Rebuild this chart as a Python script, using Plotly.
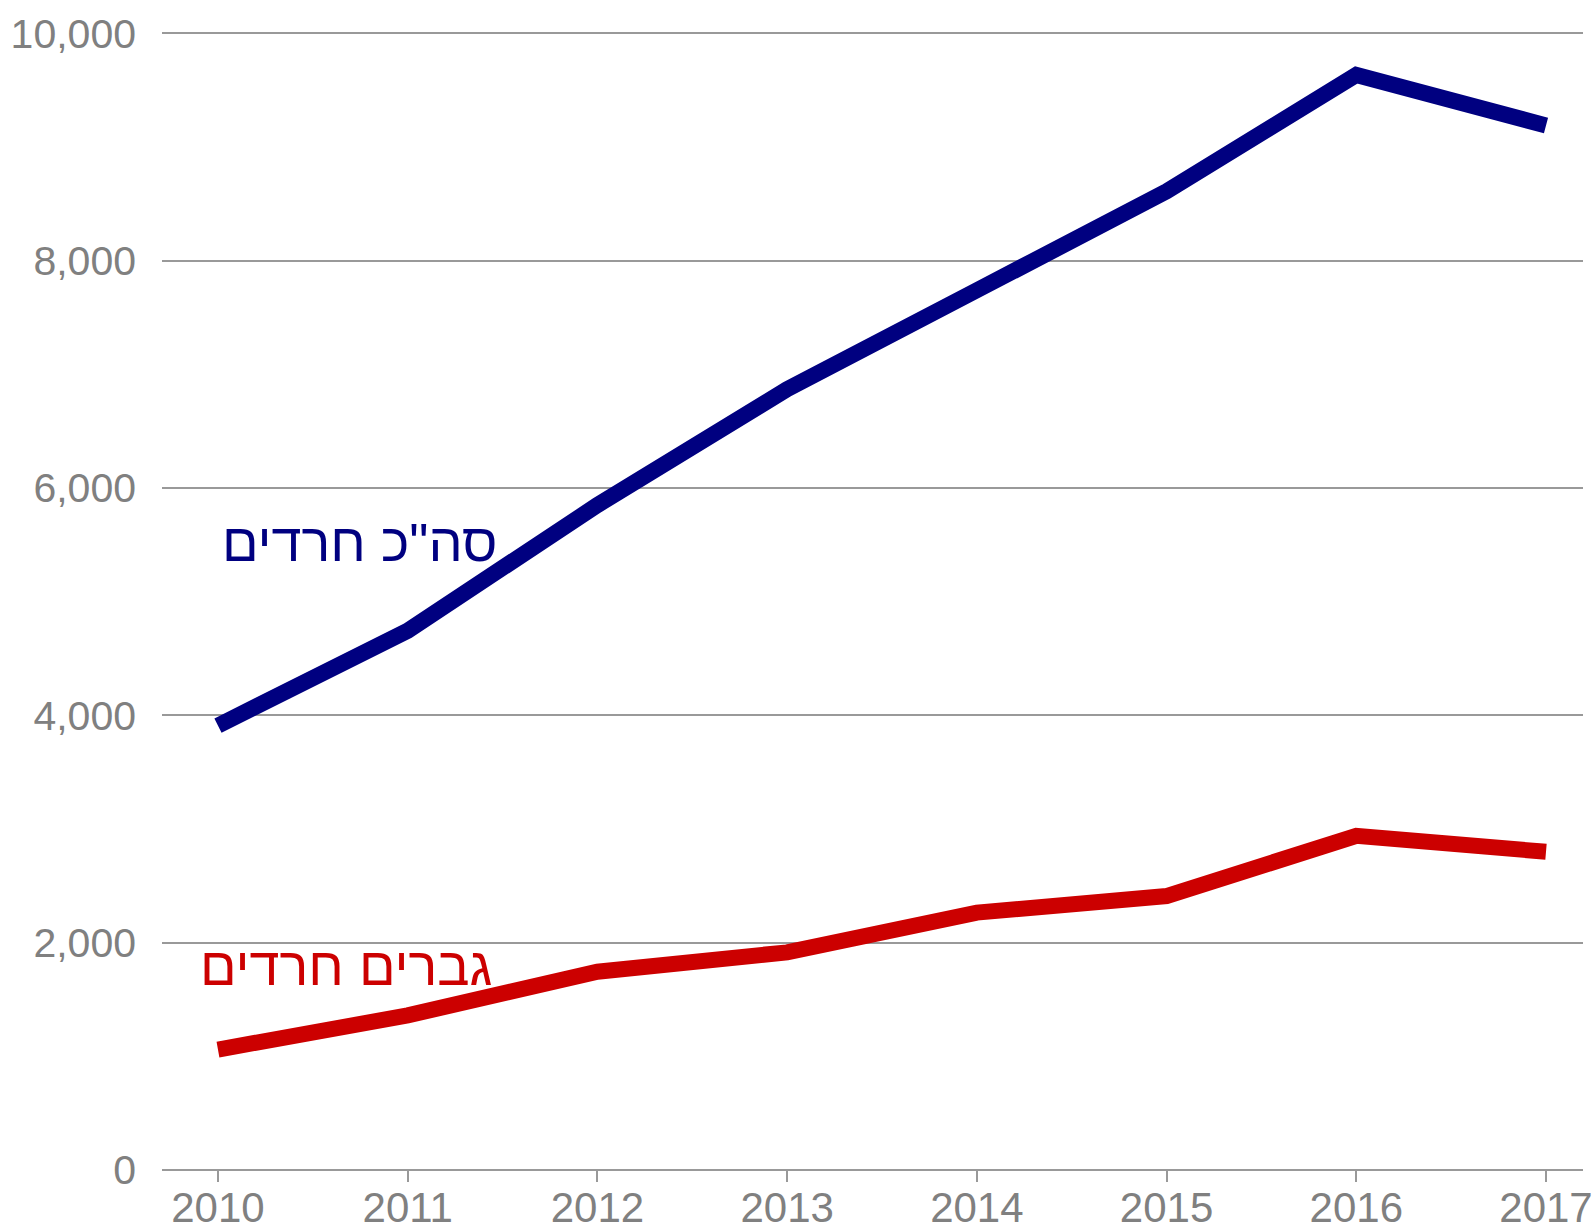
import plotly.graph_objects as go

years = [2010, 2011, 2012, 2013, 2014, 2015, 2016, 2017]
total_haredim = [3910, 4745, 5850, 6870, 7740, 8610, 9635, 9190]
haredi_men = [1060, 1360, 1745, 1915, 2265, 2410, 2940, 2800]
y_ticks = [0, 2000, 4000, 6000, 8000, 10000]
label_total = 'סה"כ חרדים'
label_men = "גברים חרדים"

fig = go.Figure()
fig.add_trace(go.Scatter(x=years, y=haredi_men, mode="lines",
                         line=dict(color="#CC0000", width=16), showlegend=False))
fig.add_trace(go.Scatter(x=years, y=total_haredim, mode="lines",
                         line=dict(color="#000080", width=16), showlegend=False))

fig.add_annotation(x=2010.75, y=5526, text=label_total, showarrow=False,
                   font=dict(family="Liberation Sans, Arial", size=54, color="#000080"),
                   xanchor="center", yanchor="middle")
fig.add_annotation(x=2010.675, y=1795, text=label_men, showarrow=False,
                   font=dict(family="Liberation Sans, Arial", size=54, color="#CC0000"),
                   xanchor="center", yanchor="middle")

fig.update_layout(
    width=1594, height=1226,
    margin=dict(l=162, r=11, t=30, b=56),
    plot_bgcolor="white", paper_bgcolor="white",
    font=dict(family="Liberation Sans, Arial", size=42, color="#808080"),
)
fig.update_xaxes(range=[2009.705, 2017.195], tickvals=years,
                 ticktext=[str(y) for y in years],
                 showgrid=False, showline=False, zeroline=False, automargin=False,
                 ticks="outside", ticklen=11, tickcolor="#999999", tickwidth=2,
                 ticklabelstandoff=-10,
                 tickfont=dict(size=42, color="#808080"))
fig.update_yaxes(range=[0, 10030], tickvals=y_ticks,
                 ticktext=[f"{v:,}" for v in y_ticks],
                 showgrid=True, gridcolor="#999999", gridwidth=1.5,
                 zeroline=True, zerolinecolor="#999999", zerolinewidth=2,
                 showline=False, ticks="", ticklabelstandoff=25, automargin=False,
                 tickfont=dict(size=41, color="#808080"))

fig.write_html(
    "out.html",
    config={"displayModeBar": False},
    post_script="document.body.style.margin='0';document.body.style.overflow='hidden';",
)
